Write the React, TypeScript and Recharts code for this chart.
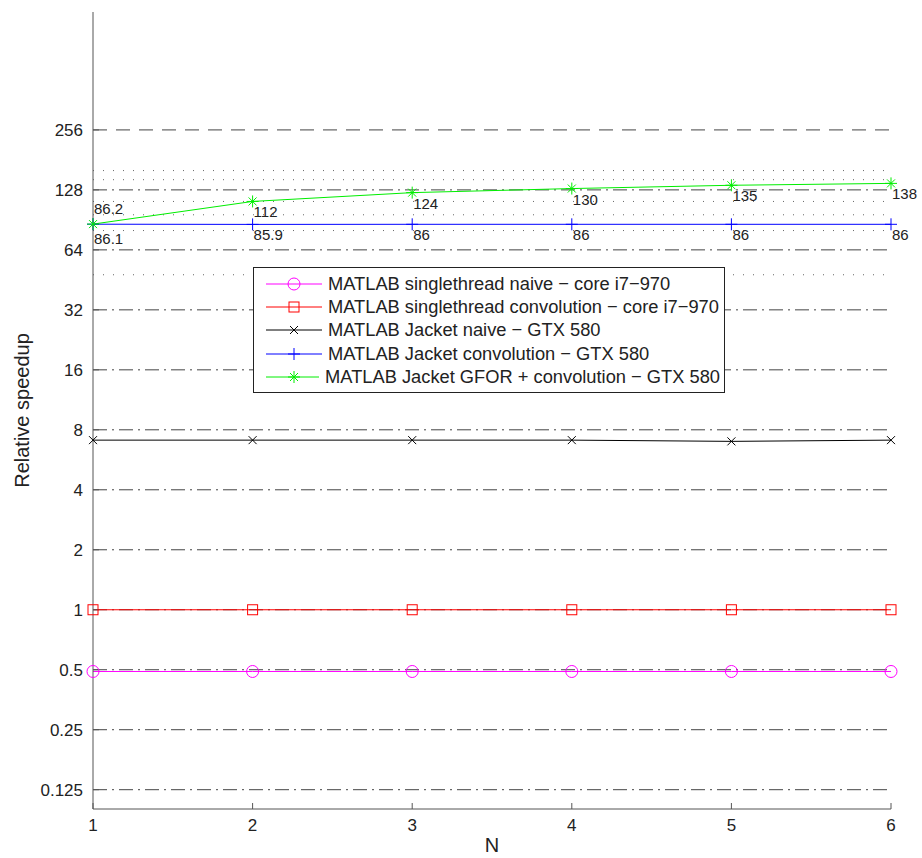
import React from "react";
import {
  LineChart,
  Line,
  XAxis,
  YAxis,
  ReferenceLine,
  LabelList,
  Label,
} from "recharts";

const nValues = [1, 2, 3, 4, 5, 6];
const naiveCpu = [0.49, 0.49, 0.49, 0.49, 0.49, 0.49];
const convCpu = [1, 1, 1, 1, 1, 1];
const jacketNaive = [7.1, 7.1, 7.1, 7.1, 7.0, 7.1];
const jacketConv = [86.1, 85.9, 86, 86, 86, 86];
const jacketGfor = [86.2, 112, 124, 130, 135, 138];
const yTicks = [0.125, 0.25, 0.5, 1, 2, 4, 8, 16, 32, 64, 128, 256];
const minorGrid = [48, 80, 96, 112, 144, 160];

const seriesNames = [
  "MATLAB singlethread naive − core i7−970",
  "MATLAB singlethread convolution − core i7−970",
  "MATLAB Jacket naive − GTX 580",
  "MATLAB Jacket convolution − GTX 580",
  "MATLAB Jacket GFOR + convolution − GTX 580",
];
const seriesKeys = ["naiveCpu", "convCpu", "jacketNaive", "jacketConv", "jacketGfor"];
const seriesColors = ["#ff00ff", "#ff0000", "#000000", "#0000ff", "#00ee00"];

const rows = nValues.map((n, i) => ({
  n,
  naiveCpu: naiveCpu[i],
  convCpu: convCpu[i],
  jacketNaive: jacketNaive[i],
  jacketConv: jacketConv[i],
  jacketGfor: jacketGfor[i],
}));

const FONT = "'Liberation Sans', Arial, sans-serif";

const Circle = (p: any) => (
  <circle cx={p.cx} cy={p.cy} r={6} fill="none" stroke="#ff00ff" strokeWidth={1} />
);
const Square = (p: any) => (
  <rect x={p.cx - 5} y={p.cy - 5} width={10} height={10} fill="none" stroke="#ff0000" strokeWidth={1} />
);
const Cross = (p: any) => (
  <path d={`M${p.cx - 4},${p.cy - 4}L${p.cx + 4},${p.cy + 4}M${p.cx - 4},${p.cy + 4}L${p.cx + 4},${p.cy - 4}`} stroke="#000" strokeWidth={1} />
);
const Plus = (p: any) => (
  <path d={`M${p.cx - 6},${p.cy}L${p.cx + 6},${p.cy}M${p.cx},${p.cy - 6}L${p.cx},${p.cy + 6}`} stroke="#0000ff" strokeWidth={1} />
);
const Star = (p: any) => (
  <path
    d={`M${p.cx - 6},${p.cy}L${p.cx + 6},${p.cy}M${p.cx},${p.cy - 6}L${p.cx},${p.cy + 6}M${p.cx - 4},${p.cy - 4}L${p.cx + 4},${p.cy + 4}M${p.cx - 4},${p.cy + 4}L${p.cx + 4},${p.cy - 4}`}
    stroke="#00ee00"
    strokeWidth={1}
  />
);

const markers = [Circle, Square, Cross, Plus, Star];

const ValueLabel = (first: "above" | "below") => (p: any) => {
  const isFirst = p.index === 0;
  const dy = isFirst ? (first === "above" ? -10 : 20) : 16;
  return (
    <text x={p.x + 1} y={p.y + dy} fontSize={15} fill="#222" fontFamily={FONT}>
      {p.value}
    </text>
  );
};

function LegendBox() {
  return (
    <div
      style={{
        position: "absolute",
        left: 253,
        top: 267,
        width: 472,
        height: 126,
        boxSizing: "border-box",
        border: "1px solid #222",
        background: "#fff",
        padding: "4px 4px",
        fontFamily: FONT,
        fontSize: 18.3,
        color: "#222",
      }}
    >
      {seriesNames.map((name, i) => {
        const M = markers[i];
        return (
          <div key={name} style={{ display: "flex", alignItems: "center", height: 23.4, whiteSpace: "nowrap" }}>
            <svg width={64} height={20} style={{ marginRight: 6 }}>
              <line x1={8} y1={10} x2={64} y2={10} stroke={seriesColors[i]} strokeWidth={1} />
              <M cx={36} cy={10} />
            </svg>
            {name}
          </div>
        );
      })}
    </div>
  );
}

export default function App() {
  return (
    <div style={{ position: "absolute", left: 0, top: 0, width: 922, height: 858, background: "#fff" }}>
      <LineChart width={922} height={858} data={rows} margin={{ top: 12, right: 31, bottom: 19, left: 13 }}>
        <XAxis
          dataKey="n"
          type="number"
          domain={[1, 6]}
          ticks={nValues}
          stroke="#555"
          tickSize={-6}
          tick={{ fill: "#222", fontSize: 17, fontFamily: FONT, dy: 14 }}
        >
          <Label value="N" position="bottom" offset={-1} style={{ fill: "#222", fontSize: 20, fontFamily: FONT }} />
        </XAxis>
        <YAxis
          scale="log"
          type="number"
          domain={[0.1, 1000]}
          allowDataOverflow
          ticks={yTicks}
          width={80}
          stroke="#555"
          tickSize={-6}
          tick={{ fill: "#222", fontSize: 17, fontFamily: FONT, dx: -14 }}
        >
          <Label
            value="Relative speedup"
            angle={-90}
            position="insideLeft"
            offset={9}
            style={{ fill: "#222", fontSize: 20, fontFamily: FONT, textAnchor: "middle" }}
          />
        </YAxis>
        {minorGrid.map((v) => (
          <ReferenceLine key={"m" + v} y={v} stroke="#666" strokeDasharray="1 9" />
        ))}
        {yTicks.map((v) => (
          <ReferenceLine key={v} y={v} stroke="#444" strokeDasharray={v === 256 ? "14 9" : "14 5 2 5"} />
        ))}
        {seriesKeys.map((k, i) => {
          const M = markers[i];
          return (
            <Line
              key={k}
              dataKey={k}
              name={seriesNames[i]}
              stroke={seriesColors[i]}
              dot={<M />}
              isAnimationActive={false}
            >
              {k === "jacketConv" && <LabelList dataKey={k} content={ValueLabel("below")} />}
              {k === "jacketGfor" && <LabelList dataKey={k} content={ValueLabel("above")} />}
            </Line>
          );
        })}
      </LineChart>
      <LegendBox />
    </div>
  );
}
